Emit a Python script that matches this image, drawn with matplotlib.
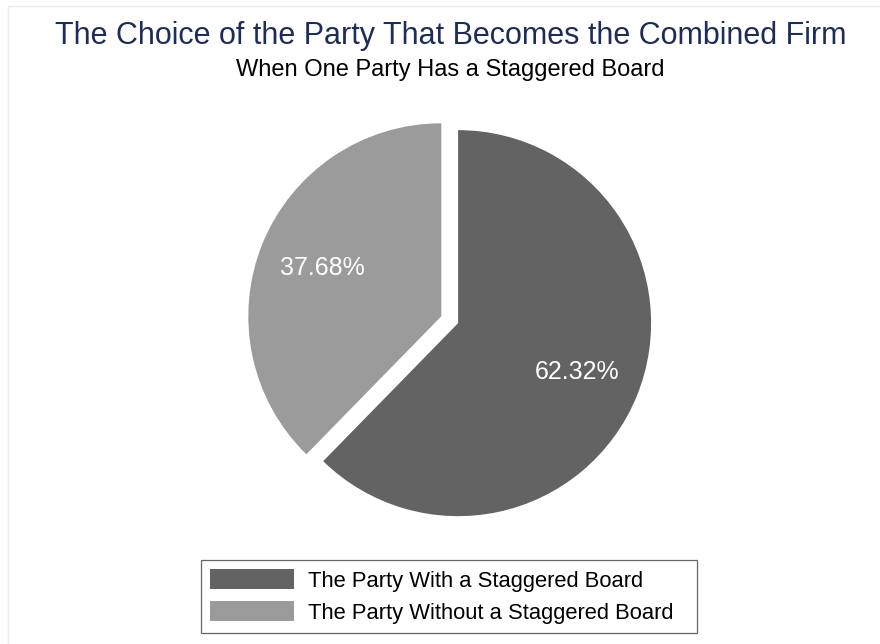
import matplotlib
matplotlib.use("Agg")
import matplotlib.pyplot as plt
from matplotlib.patches import Rectangle

plt.rcParams["font.family"] = ["Liberation Sans", "DejaVu Sans"]

# --- data -------------------------------------------------------------------
labels = ["The Party With a Staggered Board", "The Party Without a Staggered Board"]
shares = [62.32, 37.68]
colors = ["#636363", "#9b9b9b"]
explode = [0.094, 0.0]

title = "The Choice of the Party That Becomes the Combined Firm"
subtitle = "When One Party Has a Staggered Board"

W, H = 880, 644
fig = plt.figure(figsize=(W / 100, H / 100), dpi=100)
fig.patch.set_facecolor("white")

# faint outer frame (left and top edges are the only visible ones)
fig.patches.append(Rectangle((8 / W, -0.1), 1.2, 1.1 - 6 / H, transform=fig.transFigure,
                             facecolor="none", edgecolor="#e6eff1", linewidth=1.0))

ax = fig.add_axes([0, 0, 1, 1])
wedges, _, autotexts = ax.pie(shares, colors=colors, explode=explode, startangle=90,
                              counterclock=False, autopct="%.2f%%", pctdistance=0.665,
                              wedgeprops={"linewidth": 0},
                              textprops={"color": "white", "fontsize": 18})

# 1 data unit = 193 px; undisplaced pie centre at (441.3, 316.3) px from top-left
r_px = 193.0
cx, cy = 441.3, H - 316.3
ax.set_xlim(-cx / r_px, (W - cx) / r_px)
ax.set_ylim(-cy / r_px, (H - cy) / r_px)
ax.set_axis_off()

fig.text(451 / W, 1 - 44.3 / H, title, ha="center", va="baseline",
         fontsize=22, color="#1c2d5b")
fig.text(450 / W, 1 - 75.7 / H, subtitle, ha="center", va="baseline",
         fontsize=17, color="black")

# legend box: x 200.7..696.7 px, y 560..632.7 px (from top); expand mode leaves
# the spare width on the right like the original
lx0, lx1, ly0, ly1 = 200.7, 696.7, 560.0, 632.7
leg = fig.legend(wedges, labels, loc="center left",
                 bbox_to_anchor=(lx0 / W, 1 - ly1 / H, (lx1 - lx0) / W, (ly1 - ly0) / H),
                 mode="expand", fontsize=15.8, frameon=True, fancybox=False,
                 borderpad=0.43, handlelength=3.84, handleheight=1.05,
                 handletextpad=0.64, labelspacing=0.43, borderaxespad=0)
leg.get_frame().set_edgecolor("#404040")
leg.get_frame().set_linewidth(0.9)

fig.savefig("out.png", dpi=100, facecolor="white")
